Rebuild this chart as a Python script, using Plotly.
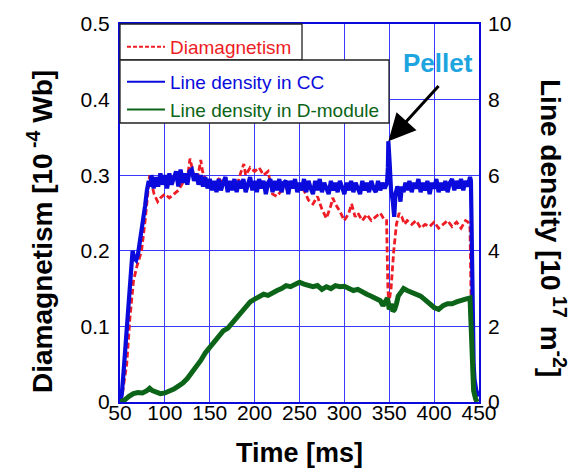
import plotly.graph_objects as go

# ---------------- data ----------------
# Line density in CC  [1e17 m^-2]
t_cc = [50, 52, 54, 56, 58, 60, 62, 64, 66, 68, 70, 72, 74, 76, 78, 80, 82, 84,
        85, 87.5, 90, 92.5, 95, 97.5, 100, 102.5, 105, 107.5, 110, 112.5, 115, 117.5,
        120, 122.5, 125, 127.5, 130, 132.5, 135, 137.5, 140, 142.5, 145, 147.5,
        150, 152.5, 155, 157.5, 160, 162.5, 165, 167.5, 170, 172.5, 175, 177.5,
        180, 182.5, 185, 187.5, 190, 192.5, 195, 197.5, 200, 202.5, 205, 207.5,
        210, 212.5, 215, 217.5, 220, 222.5, 225, 227.5, 230, 232.5, 235, 237.5,
        240, 242.5, 245, 247.5, 250, 252.5, 255, 257.5, 260, 262.5, 265, 267.5,
        270, 272.5, 275, 277.5, 280, 282.5, 285, 287.5, 290, 292.5, 295, 297.5,
        300, 302.5, 305, 307.5, 310, 312.5, 315, 317.5, 320, 322.5, 325, 327.5,
        330, 332.5, 335, 337.5, 340, 342.5, 345, 347.5, 348.5, 349, 350.5, 352,
        354, 355.5, 357, 359, 361, 362.5, 364, 366, 368, 370, 372.5, 375, 377.5,
        380, 382.5, 385, 387.5, 390, 392.5, 395, 397.5, 400, 402.5, 405, 407.5,
        410, 412.5, 415, 417.5, 420, 422.5, 425, 427.5, 430, 432.5, 435, 437.5,
        440, 441, 442, 443, 444, 445, 447, 450]
n_cc = [0.0, 0.2, 0.8, 1.5, 2.2, 2.9, 3.6, 4.0, 3.8, 3.75, 3.9, 4.2, 4.5, 4.8, 5.2, 5.6, 5.85, 5.7,
        6.0, 5.65, 5.95, 5.7, 6.05, 5.75, 6.0, 5.65, 6.05, 5.75, 5.95, 6.1, 5.7, 6.15,
        5.8, 6.05, 5.75, 6.1, 6.15, 5.85, 6.05, 5.75, 6.0, 5.7, 5.95, 5.65,
        5.9, 5.6, 5.85, 5.55, 5.9, 5.6, 5.8, 5.95, 5.55, 5.85, 5.6, 5.9,
        5.55, 5.85, 5.65, 5.9, 5.55, 5.8, 5.95, 5.6, 5.85, 5.55, 5.9, 5.65,
        5.85, 5.5, 5.8, 5.9, 5.55, 5.85, 5.6, 5.9, 5.55, 5.8, 5.85, 5.5,
        5.85, 5.65, 5.9, 5.55, 5.8, 5.6, 5.9, 5.55, 5.85, 5.65, 5.5, 5.85,
        5.6, 5.9, 5.55, 5.8, 5.65, 5.5, 5.85, 5.6, 5.8, 5.55, 5.85, 5.65,
        5.5, 5.8, 5.6, 5.85, 5.55, 5.8, 5.65, 5.5, 5.85, 5.6, 5.8, 5.55,
        5.85, 5.65, 5.55, 5.85, 5.6, 5.8, 5.65, 5.8, 6.2, 6.9, 6.3, 5.6,
        5.3, 4.9, 5.5, 5.7, 5.6, 5.3, 5.7, 5.55, 5.8, 5.6, 5.85, 5.55, 5.8,
        5.65, 5.9, 5.55, 5.8, 5.6, 5.85, 5.5, 5.8, 5.65, 5.9, 5.55, 5.8, 5.6,
        5.85, 5.55, 5.8, 5.9, 5.6, 5.85, 5.65, 5.9, 5.6, 5.85, 5.7, 5.95,
        5.85, 4.0, 2.0, 1.0, 0.6, 0.3, 0.15, 0.05]

# Diamagnetism [1e-4 Wb]
t_dia = [48, 50, 52, 55, 57.5, 61, 65, 68.5, 74, 78, 81.5, 83, 85, 88, 92, 95, 100, 105,
         110, 115, 120, 125, 128, 130, 133, 137, 140, 142, 145, 150, 155, 160, 165,
         170, 175, 180, 185, 188, 190, 195, 200, 205, 210, 215, 220, 225, 230, 240,
         250, 255, 260, 265, 270, 275, 280, 285, 287, 290, 295, 300, 305, 308, 312,
         315, 320, 325, 330, 335, 340, 345, 347, 348.5, 349.5, 352, 355, 358, 361,
         364, 367, 370, 375, 380, 385, 390, 395, 400, 405, 410, 415, 420, 425, 430,
         435, 438, 440, 441, 442, 444, 446]
dia = [0.01, 0.008, 0.006, 0.03, 0.05, 0.11, 0.16, 0.178, 0.2, 0.24, 0.29, 0.3, 0.29, 0.275, 0.265, 0.27, 0.275, 0.27,
       0.275, 0.28, 0.29, 0.295, 0.322, 0.31, 0.295, 0.3, 0.32, 0.305, 0.295, 0.29, 0.29, 0.295, 0.29,
       0.285, 0.29, 0.285, 0.305, 0.315, 0.3, 0.31, 0.305, 0.31, 0.3, 0.305, 0.275, 0.272, 0.28, 0.285,
       0.285, 0.28, 0.267, 0.262, 0.272, 0.255, 0.243, 0.26, 0.27, 0.262, 0.252, 0.24, 0.25, 0.262, 0.245,
       0.25, 0.24, 0.248, 0.24, 0.245, 0.25, 0.24, 0.24, 0.15, 0.13, 0.15, 0.2, 0.235, 0.25,
       0.245, 0.235, 0.24, 0.235, 0.24, 0.23, 0.235, 0.232, 0.238, 0.23, 0.235, 0.24, 0.232, 0.238, 0.23,
       0.24, 0.238, 0.23, 0.15, 0.08, 0.02, 0.0]

# Line density in D-module [1e17 m^-2]
t_dm = [50, 55, 60, 65, 70, 75, 80, 83, 86, 90, 95, 100, 105, 110, 115, 120, 125, 130,
        135, 140, 145, 150, 155, 160, 165, 170, 175, 180, 185, 190, 195, 200, 205, 210,
        215, 220, 225, 230, 235, 240, 245, 250, 255, 260, 265, 270, 275, 280, 285, 290,
        295, 300, 305, 310, 315, 320, 325, 330, 335, 340, 343, 346, 348, 350, 352, 354,
        356, 358, 360, 363, 366, 370, 375, 380, 385, 390, 395, 400, 405, 410, 415, 420,
        425, 430, 435, 440, 441, 442, 443, 444, 446, 448]
n_dm = [0.0, 0.05, 0.15, 0.22, 0.25, 0.24, 0.3, 0.36, 0.3, 0.25, 0.22, 0.24, 0.28, 0.34, 0.42, 0.5, 0.62, 0.78,
        0.92, 1.1, 1.3, 1.45, 1.55, 1.7, 1.88, 1.95, 2.1, 2.2, 2.35, 2.5, 2.65, 2.72, 2.8, 2.85,
        2.82, 2.9, 2.95, 3.0, 3.08, 3.05, 3.1, 3.17, 3.12, 3.1, 3.05, 3.08, 2.98, 3.05, 3.0, 3.08,
        3.05, 3.06, 3.0, 2.95, 2.98, 2.9, 2.85, 2.8, 2.75, 2.68, 2.55, 2.65, 2.75, 2.45, 2.6, 2.4,
        2.45, 2.6, 2.8, 2.9, 3.0, 2.95, 2.9, 2.85, 2.8, 2.7, 2.6, 2.5, 2.45, 2.55, 2.6, 2.6,
        2.65, 2.7, 2.72, 2.75, 2.0, 1.2, 0.6, 0.3, 0.1, 0.0]

x_ticks = [50, 100, 150, 200, 250, 300, 350, 400, 450]
y_ticks = [0, 0.1, 0.2, 0.3, 0.4, 0.5]
y_labels = ["0", "0.1", "0.2", "0.3", "0.4", "0.5"]
y2_ticks = [0, 2, 4, 6, 8, 10]

RED = "#ee1c24"
BLUE = "#0a0adc"
GREEN = "#0b6417"
GRID = "#3a3aff"
FONT = "Liberation Sans, Arial, sans-serif"

# page body has an 8px margin: figure is sized so the plot lands where the reference has it
W, H = 563, 460
ML, MT = 112, 16
PW, PH = 359, 378
MR, MB = W - ML - PW, H - MT - PH


def py(px_from_top):
    """paper y for a pixel distance below the plot top"""
    return 1 - px_from_top / PH


def pxx(px_from_left):
    return px_from_left / PW


fig = go.Figure()
# data traces (thick, to mimic the noisy bands of the measured signals)
fig.add_trace(go.Scatter(
    x=t_dia, y=dia, mode="lines", yaxis="y", showlegend=False,
    line=dict(color=RED, width=2.8, dash="6px,3px")))
fig.add_trace(go.Scatter(
    x=t_cc, y=n_cc, mode="lines", yaxis="y2", showlegend=False,
    line=dict(color=BLUE, width=4.2)))
fig.add_trace(go.Scatter(
    x=t_dm, y=n_dm, mode="lines", yaxis="y2", showlegend=False,
    line=dict(color=GREEN, width=5)))
# legend entries (thin line samples as in the reference)
fig.add_trace(go.Scatter(
    x=[None], y=[None], mode="lines", yaxis="y",
    line=dict(color=RED, width=2, dash="4px,2px"),
    name=f"<span style='color:{RED}'>Diamagnetism</span>", legend="legend"))
fig.add_trace(go.Scatter(
    x=[None], y=[None], mode="lines", yaxis="y2",
    line=dict(color=BLUE, width=2),
    name=f"<span style='color:{BLUE}'>Line density in CC</span>", legend="legend2"))
fig.add_trace(go.Scatter(
    x=[None], y=[None], mode="lines", yaxis="y2",
    line=dict(color=GREEN, width=2),
    name=f"<span style='color:{GREEN}'>Line density in D-module</span>", legend="legend2"))

tickfont = dict(family=FONT, size=21, color="black")

fig.update_layout(
    width=W, height=H,
    margin=dict(l=ML, r=MR, t=MT, b=MB, autoexpand=False),
    paper_bgcolor="white", plot_bgcolor="white",
    font=dict(family=FONT, color="black"),
    xaxis=dict(range=[50, 450], tickvals=x_ticks, tickfont=tickfont,
               showgrid=True, gridcolor=GRID, gridwidth=1.2,
               showline=True, linecolor=BLUE, linewidth=2, mirror=True,
               zeroline=False, ticks="", ticklabelstandoff=-9, automargin=False),
    yaxis=dict(range=[0, 0.5], tickvals=y_ticks, ticktext=y_labels,
               tickfont=tickfont, showgrid=True, gridcolor=GRID, gridwidth=1.2,
               showline=True, linecolor=BLUE, linewidth=2, mirror=True,
               zeroline=False, ticks="", ticklabelstandoff=4, automargin=False),
    yaxis2=dict(range=[0, 10], tickvals=y2_ticks, tickfont=tickfont,
                overlaying="y", side="right", showgrid=False, zeroline=False,
                showline=False, ticks="", ticklabelstandoff=8, automargin=False),
    legend=dict(x=pxx(2), y=py(4), xanchor="left", yanchor="top",
                bgcolor="rgba(0,0,0,0)", borderwidth=0, itemwidth=38,
                font=dict(family=FONT, size=19), tracegroupgap=0),
    legend2=dict(x=pxx(2), y=py(39), xanchor="left", yanchor="top",
                 bgcolor="rgba(0,0,0,0)", borderwidth=0, itemwidth=38,
                 font=dict(family=FONT, size=19), tracegroupgap=0),
    showlegend=True,
    shapes=[
        dict(type="rect", xref="paper", yref="paper", layer="above",
             x0=0, x1=pxx(182), y0=py(36), y1=1,
             fillcolor="white", line=dict(color="#222222", width=1.3)),
        dict(type="rect", xref="paper", yref="paper", layer="above",
             x0=0, x1=pxx(269), y0=py(99), y1=py(36),
             fillcolor="white", line=dict(color="#222222", width=1.3)),
    ],
)

# Axis titles
fig.add_annotation(text="<b>Time [ms]</b>", xref="paper", yref="paper",
                   x=0.5, y=0, yshift=-51, xanchor="center", yanchor="middle", showarrow=False,
                   font=dict(family=FONT, size=27, color="black"))
fig.add_annotation(text="<b>Diamagnetism [10<sup> -4</sup> Wb]</b>", xref="paper", yref="paper",
                   x=0, y=0.5, xshift=-80, yshift=-19, xanchor="center", yanchor="middle",
                   textangle=-90, showarrow=False,
                   font=dict(family=FONT, size=28, color="black"))
fig.add_annotation(text="<b>Line density [10<sup> 17</sup> m<sup>-2</sup>]</b>", xref="paper", yref="paper",
                   x=1, y=0.5, xshift=74, yshift=-15, xanchor="center", yanchor="middle",
                   textangle=90, showarrow=False,
                   font=dict(family=FONT, size=28, color="black"))

# Pellet annotation
fig.add_annotation(text="<b>Pellet</b>", xref="x", yref="y2", x=404, y=8.97,
                   showarrow=False, font=dict(family=FONT, size=26, color="#1ea5e0"))
fig.add_annotation(x=349, y=6.9, xref="x", yref="y2", ax=406.5, ay=8.4, axref="x", ayref="y2",
                   text="", showarrow=True, arrowhead=2, arrowsize=1.8, arrowwidth=3,
                   arrowcolor="black", standoff=0)

fig.write_html("out.html")
